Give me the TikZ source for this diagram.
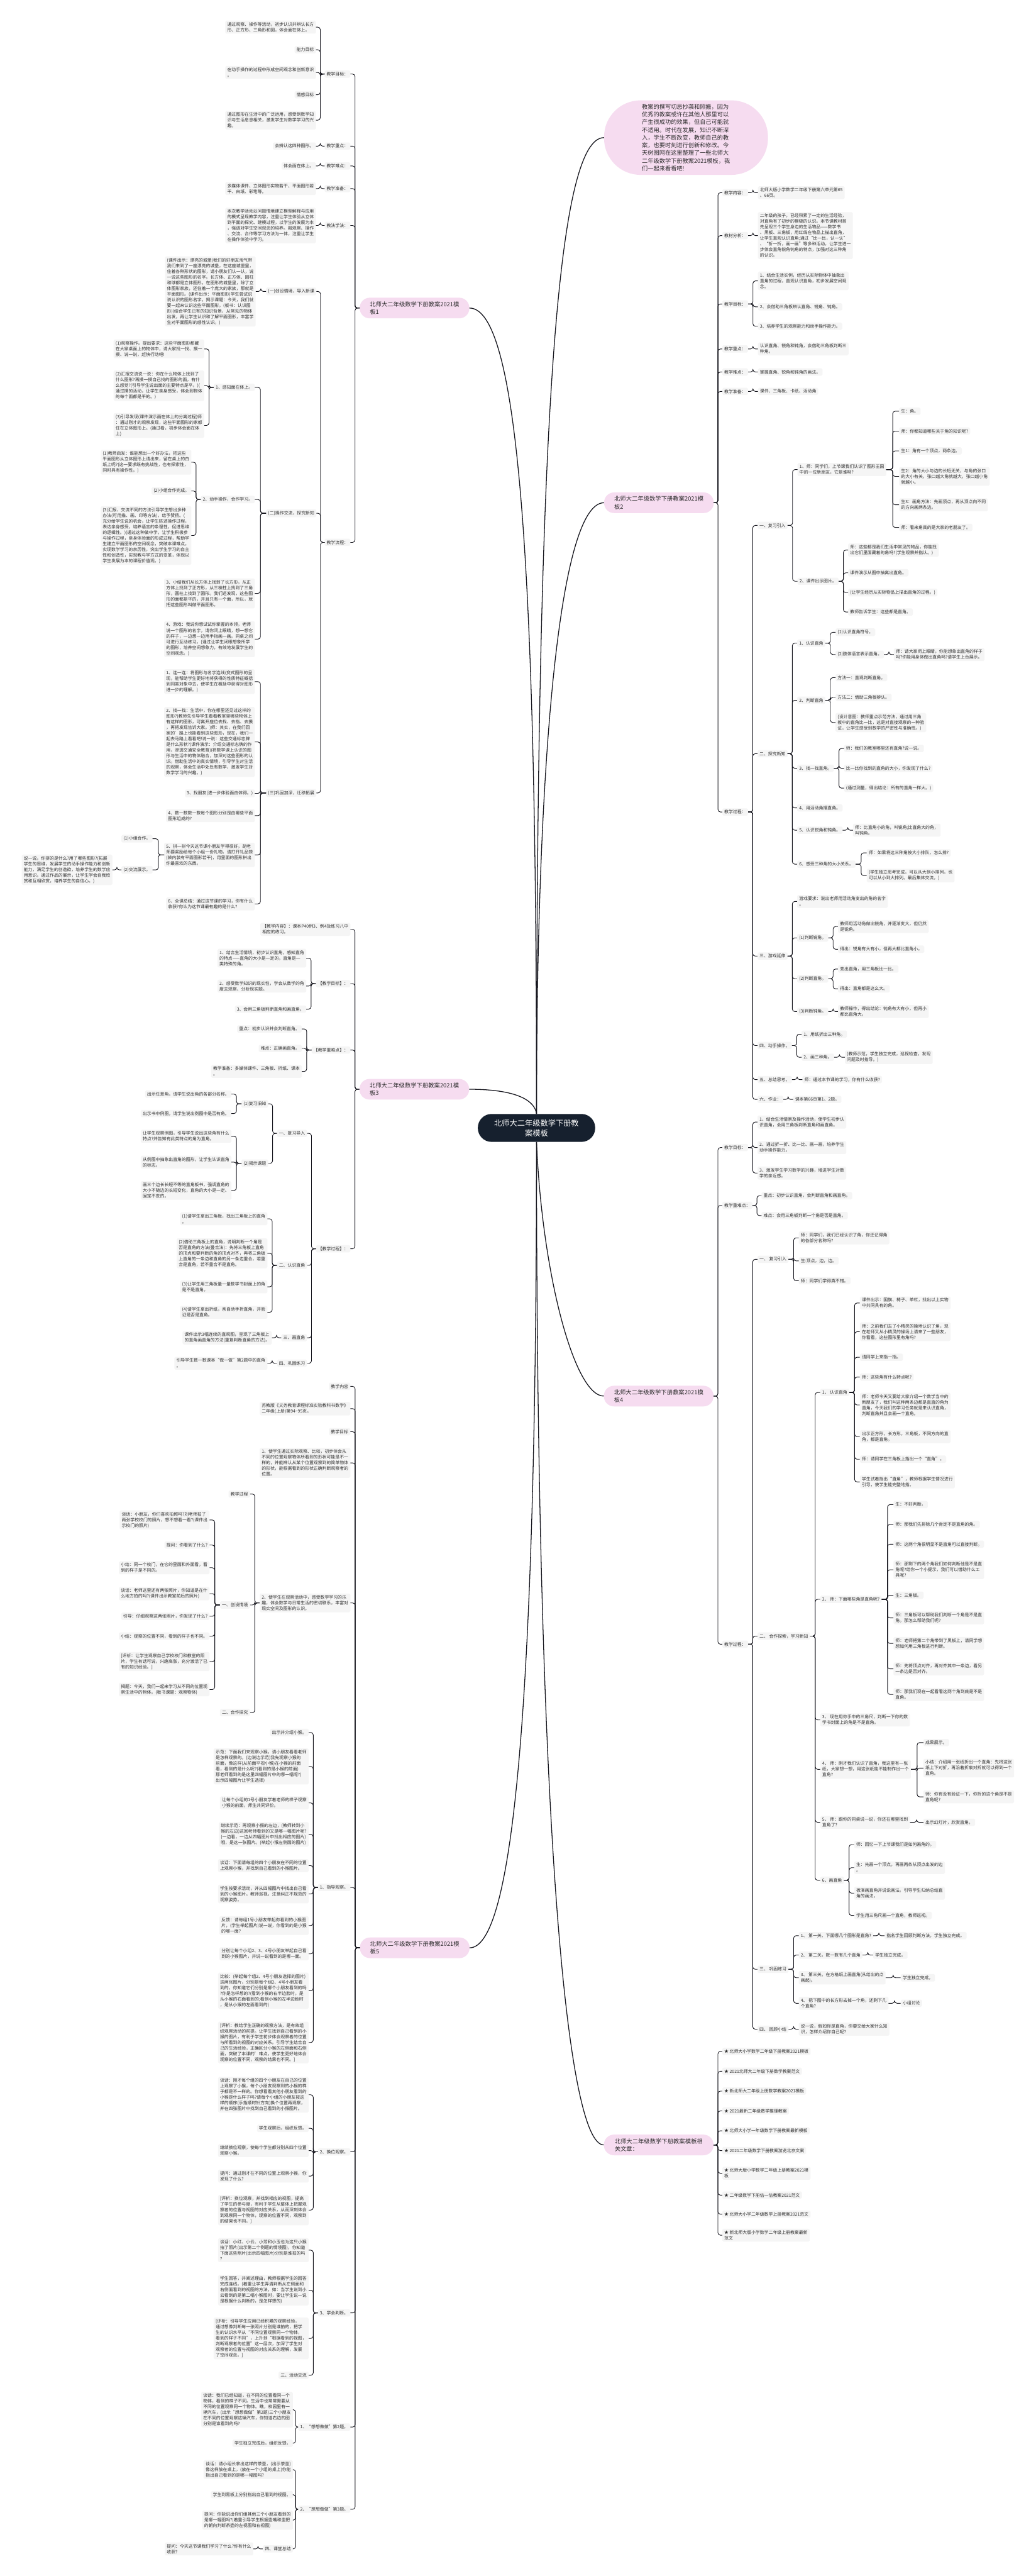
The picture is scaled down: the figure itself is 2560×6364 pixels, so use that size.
\documentclass[tikz,border=0pt]{standalone}
\usepackage{fontspec}
\setmainfont{Noto Sans CJK SC}
\usetikzlibrary{calc}
\definecolor{pinkf}{RGB}{246,220,240}
\definecolor{boxf}{RGB}{245,245,245}
\definecolor{navy}{RGB}{22,32,46}
\definecolor{txt}{RGB}{45,45,45}
\definecolor{lnc}{RGB}{20,20,28}
\tikzset{
  bx/.style={fill=boxf, rounded corners=3pt, inner xsep=5pt, inner ysep=4pt, align=left, text=txt, font=\fontsize{10.7}{14}\selectfont},
  pk/.style={fill=pinkf, rounded corners=25pt, inner xsep=22pt, inner ysep=8pt, minimum width=271pt, minimum height=51pt, align=left, text=txt, font=\fontsize{14.5}{19}\selectfont},
  conn/.style={draw=lnc, line width=1.4pt, rounded corners=6pt},
  mainl/.style={draw=lnc, line width=2pt}
}
\newcommand\lbx[4]{\node[bx,anchor=east] (#1) at (#2,#3) {#4};}
\newcommand\rbx[4]{\node[bx,anchor=west] (#1) at (#2,#3) {#4};}
\newcommand\chL[2]{\foreach \cc in {#2}{\draw[conn] (#1.west) -- ($(#1.west)!0.5!(#1.west-|\cc.east)$) |- (\cc.east);}}
\newcommand\chR[2]{\foreach \cc in {#2}{\draw[conn] (#1.east) -- ($(#1.east)!0.5!(#1.east-|\cc.west)$) |- (\cc.west);}}
\begin{document}
\begin{tikzpicture}[x=1pt,y=-1pt]
\useasboundingbox (0,0) rectangle (2560,6364);
\fill[white] (0,0) rectangle (2560,6364);

% ===== center and main branches =====
\node[fill=navy, text=white, rounded corners=34pt, minimum width=290pt, minimum height=69pt, align=center, font=\fontsize{19}{25}\selectfont] (c0) at (1326,2786.5) {北师大二年级数学下册教\\案模板};
\node[fill=pinkf, rounded corners=90pt, minimum width=405pt, minimum height=184pt, align=left, text=txt, font=\fontsize{14.3}{19}\selectfont] (d0) at (1695.5,340) {教案的撰写切忌抄袭和照搬，因为\\优秀的教案或许在其他人那里可以\\产生很成功的效果，但自己可能就\\不适用。时代在发展，知识不断深\\入，学生不断改变，教师自己的教\\案，也要时刻进行创新和修改。今\\天树图网在这里整理了一些北师大\\二年级数学下册教案2021模板，我\\们一起来看看吧!};
\node[pk] (t1) at (1024.5,761) {北师大二年级数学下册教案2021模\\板1};
\node[pk] (t2) at (1628.5,1242) {北师大二年级数学下册教案2021模\\板2};
\node[pk] (t3) at (1024,2691) {北师大二年级数学下册教案2021模\\板3};
\node[pk] (t4) at (1628,3449) {北师大二年级数学下册教案2021模\\板4};
\node[pk] (t5) at (1025,4812) {北师大二年级数学下册教案2021模\\板5};
\node[pk] (t6) at (1628,5299) {北师大二年级数学下册教案模板相\\关文章：};

\draw[mainl] (c0.north) .. controls (1326,1000) and (1380,340) .. (d0.west);
\draw[mainl] (c0.north) .. controls (1326,1900) and (1380,1242) .. (t2.west);
\draw[mainl] (c0.north) .. controls (1326,1500) and (1290,761) .. (t1.east);
\draw[mainl] (c0.north) .. controls (1322,2720) and (1280,2691) .. (t3.east);
\draw[mainl] (c0.south) .. controls (1340,3150) and (1420,3449) .. (t4.west);
\draw[mainl] (c0.south) .. controls (1326,4300) and (1260,4812) .. (t5.east);
\draw[mainl] (c0.south) .. controls (1326,4500) and (1400,5299) .. (t6.west);

% ===== branch 2 (right) =====
\rbx{b1}{1785}{476}{教学内容：}
\rbx{b1a}{1873}{476}{北师大版小学数学二年级下册第六单元第65\\、66页。}
\rbx{b2}{1785}{582}{教材分析：}
\rbx{b2a}{1873}{582}{二年级的孩子，已经积累了一定的生活经验，\\对直角有了初步的模糊的认识。本节课教材首\\先呈现三个学生身边的生活物品——数学书\\、黑板、三角板，用红线在物品上描出直角，\\让学生直观认识直角;通过“比一比，认一认”\\、“折一折，画一画”等多种活动，让学生进一\\步体会直角锐角钝角的特点，加强对这三种角\\的认识。}
\rbx{b3}{1785}{751}{教学目标：}
\rbx{b3a}{1873}{694}{1、结合生活实例，经历从实际物体中抽象出\\直角的过程，直观认识直角，初步发展空间观\\念。}
\rbx{b3b}{1873}{758}{2、会借助三角板辨认直角、锐角、钝角。}
\rbx{b3c}{1873}{806}{3、培养学生的观察能力和动手操作能力。}
\rbx{b4}{1785}{862}{教学重点：}
\rbx{b4a}{1873}{862}{认识直角、锐角和钝角，会借助三角板判断三\\种角。}
\rbx{b5}{1785}{919}{教学难点：}
\rbx{b5a}{1873}{919}{掌握直角、锐角和钝角的画法。}
\rbx{b6}{1785}{967}{教学准备：}
\rbx{b6a}{1873}{967}{课件、三角板、卡纸、活动角}
\rbx{b7}{1785}{2006}{教学过程：}
\rbx{p1}{1872}{1298}{一、复习引入}
\rbx{p11}{1971}{1160}{1、师：同学们，上节课我们认识了图形王国\\中的一位新朋友，它是谁呀?}
\rbx{p111}{2222}{1016}{生：角。}
\rbx{p112}{2222}{1065}{师：你都知道哪些关于角的知识呢?}
\rbx{p113}{2222}{1114}{生1：角有一个顶点，两条边。}
\rbx{p114}{2222}{1177}{生2：角的大小与边的长短无关，与角的张口\\的大小有关，张口越大角就越大，张口越小角\\就越小。}
\rbx{p115}{2222}{1247}{生3：画角方法：先画顶点，再从顶点向不同\\的方向画两条边。}
\rbx{p116}{2222}{1303}{师：看来角真的是大家的老朋友了。}
\rbx{p12}{1971}{1436}{2、课件出示图片。}
\rbx{p121}{2096}{1359}{师：这些都是我们生活中常见的物品，你能找\\出它们里面藏着的角吗?(学生观察并指认。)}
\rbx{p122}{2096}{1415}{课件演示从图中抽离出直角。}
\rbx{p123}{2096}{1464}{(让学生经历从实际物品上描出直角的过程。)}
\rbx{p124}{2096}{1512}{教师告诉学生：这些都是直角。}
\rbx{p2}{1872}{1862}{二、探究新知}
\rbx{p21}{1970}{1589}{1、认识直角}
\rbx{p211}{2065}{1562}{(1)认识直角符号。}
\rbx{p212}{2065}{1617}{(2)肢体语言表示直角。}
\rbx{p2121}{2209}{1617}{师：请大家闭上眼睛，你能想象出直角的样子\\吗?你能用身体做出直角吗?请学生上台展示。}
\rbx{p22}{1970}{1730}{2、判断直角}
\rbx{p221}{2065}{1674}{方法一：直观判断直角。}
\rbx{p222}{2065}{1723}{方法二：借助三角板辨认。}
\rbx{p223}{2065}{1785}{(设计意图：教师重点示范方法，通过用三角\\板中的直角比一比，这是对直接观察的一种验\\证，让学生感受到数学的严密性与准确性。)}
\rbx{p23}{1970}{1898}{3、找一找直角。}
\rbx{p231}{2086}{1849}{师：我们的教室哪里还有直角?说一说。}
\rbx{p232}{2086}{1898}{比一比你找到的直角的大小，你发现了什么?}
\rbx{p233}{2086}{1947}{(通过测量，得出结论：所有的直角一样大。)}
\rbx{p24}{1970}{1996}{4、用活动角摆直角。}
\rbx{p25}{1970}{2051}{5、认识锐角和钝角。}
\rbx{p251}{2108}{2051}{师：比直角小的角，叫锐角;比直角大的角，\\叫钝角。}
\rbx{p26}{1970}{2135}{6、感受三种角的大小关系。}
\rbx{p261}{2142}{2107}{师：如果将这三种角按大小排队，怎么排?}
\rbx{p262}{2142}{2163}{(学生独立思考完成，可以从大到小排列，也\\可以从小到大排列。最后集体交流。)}
\rbx{p3}{1872}{2362}{三、游戏延伸}
\rbx{p31}{1970}{2227}{游戏要求：说出老师用活动角变出的角的名字\\。}
\rbx{p32}{1970}{2317}{(1)判断锐角。}
\rbx{p321}{2071}{2289}{教师用活动角做出锐角，并逐渐变大，但仍然\\是锐角。}
\rbx{p322}{2071}{2345}{得出：锐角有大有小，但再大都比直角小。}
\rbx{p33}{1970}{2418}{(2)判断直角。}
\rbx{p331}{2071}{2394}{变出直角，用三角板比一比。}
\rbx{p332}{2071}{2443}{得出：直角都是这么大。}
\rbx{p34}{1970}{2499}{(3)判断钝角。}
\rbx{p341}{2071}{2499}{教师操作，得出结论：钝角有大有小，但再小\\都比直角大。}
\rbx{p4}{1872}{2583}{四、动手操作。}
\rbx{p41}{1981}{2555}{1、用纸折出三种角。}
\rbx{p42}{1981}{2612}{2、画三种角。}
\rbx{p421}{2088}{2612}{(教师示范，学生独立完成，巡视检查，发现\\问题及时指导。)}
\rbx{p5}{1872}{2667}{五、总结思考。}
\rbx{p51}{1983}{2667}{师：通过本节课的学习，你有什么收获?}
\rbx{p6}{1872}{2716}{六、作业：}
\rbx{p61}{1960}{2716}{课本第66页第1、2题。}

\chR{t2}{b1,b2,b3,b4,b5,b6,b7}
\chR{b1}{b1a}\chR{b2}{b2a}\chR{b3}{b3a,b3b,b3c}\chR{b4}{b4a}\chR{b5}{b5a}\chR{b6}{b6a}
\chR{b7}{p1,p2,p3,p4,p5,p6}
\chR{p1}{p11,p12}
\chR{p11}{p111,p112,p113,p114,p115,p116}
\chR{p12}{p121,p122,p123,p124}
\chR{p2}{p21,p22,p23,p24,p25,p26}
\chR{p21}{p211,p212}\chR{p212}{p2121}
\chR{p22}{p221,p222,p223}
\chR{p23}{p231,p232,p233}
\chR{p25}{p251}
\chR{p26}{p261,p262}
\chR{p3}{p31,p32,p33,p34}
\chR{p32}{p321,p322}\chR{p33}{p331,p332}\chR{p34}{p341}
\chR{p4}{p41,p42}\chR{p42}{p421}
\chR{p5}{p51}\chR{p6}{p61}

% ===== branch 4 (right) =====
\rbx{e1}{1785}{2835}{教学目标：}
\rbx{e1a}{1872}{2772}{1、结合生活情景及操作活动，使学生初步认\\识直角，会用三角板判断直角和画直角。}
\rbx{e1b}{1872}{2835}{2、通过折一折、比一比、画一画，培养学生\\动手操作能力。}
\rbx{e1c}{1872}{2898}{3、激发学生学习数学的兴趣，增进学生对数\\学的亲近感。}
\rbx{e2}{1785}{2978}{教学重难点：}
\rbx{e2a}{1882}{2954}{重点：初步认识直角，会判断直角和画直角。}
\rbx{e2b}{1882}{3003}{难点：会用三角板判断一个角是否是直角。}
\rbx{e3}{1785}{4062}{教学过程：}
\rbx{q1}{1872}{3111}{一、 复习引入}
\rbx{q11}{1974}{3058}{师：同学们，我们已经认识了角，你还记得角\\的各部分名称吗?}
\rbx{q12}{1974}{3115}{生:顶点，边，边。}
\rbx{q13}{1974}{3164}{师：同学们学得真不错。}
\rbx{q2}{1872}{4042}{二、 合作探索，学习新知}
\rbx{q21}{2027}{3440}{1、 认识直角}
\rbx{q211}{2125}{3219}{课件出示：国旗、椅子、单杠，找出以上实物\\中共同具有的角。}
\rbx{q212}{2125}{3290}{师：之前我们去了小精灵的操场认识了角，现\\在老师又从小精灵的操场上请来了一些朋友，\\你看看，这些图形里有角吗?}
\rbx{q213}{2125}{3353}{请同学上来指一指。}
\rbx{q214}{2125}{3402}{师：这些角有什么特点呢?}
\rbx{q215}{2125}{3471}{师：老师今天又要给大家介绍一个数学当中的\\新朋友了，我们叫这种两条边都是直直的角为\\直角，今天我们的学习任务就是来认识直角，\\判断直角并且会画一个直角。}
\rbx{q216}{2125}{3549}{出示正方形，长方形，三角板，不同方向的直\\角，都是直角。}
\rbx{q217}{2125}{3605}{师：请同学在三角板上指出一个“直角”。}
\rbx{q218}{2125}{3661}{学生试着指出“直角”，教师根据学生情况进行\\引导，使学生能完整地指。}
\rbx{q22}{2027}{3951}{2、 师：下面哪些角是直角呢?}
\rbx{q221}{2208}{3717}{生：不好判断。}
\rbx{q222}{2208}{3766}{师：那我们先排除几个肯定不是直角的角。}
\rbx{q223}{2208}{3815}{师：这两个角很明显不是直角可以直接判断。}
\rbx{q224}{2208}{3878}{师：那剩下的两个角我们如何判断他是不是直\\角呢?给你一个小提示，我们可以借助什么工\\具呢?}
\rbx{q225}{2208}{3941}{生：三角板。}
\rbx{q226}{2208}{3997}{师：三角板可以帮助我们判断一个角是不是直\\角。那怎么帮助我们呢?}
\rbx{q227}{2208}{4060}{师：老师把第二个角带到了黑板上，请同学想\\想如何用三角板进行判断。}
\rbx{q228}{2208}{4123}{师：先将顶点对齐，再对齐其中一条边，看另\\一条边是否对齐。}
\rbx{q229}{2208}{4186}{师：那我们现在一起看看这两个角到底是不是\\直角。}
\rbx{q23}{2027}{4249}{3、 现在用你手中的三角尺，判断一下你的数\\学书封面上的角是不是直角。}
\rbx{q24}{2027}{4371}{4、 师：刚才我们认识了直角，我这里有一张\\纸，大家想一想，用这张纸能不能制作出一个\\直角?}
\rbx{q241}{2282}{4305}{成果展示。}
\rbx{q242}{2282}{4368}{小结：介绍用一张纸折出一个直角：先将这张\\纸上下对折，再沿着折痕对折就可以得到一个\\直角。}
\rbx{q243}{2282}{4439}{师：你有没有验证一下，你折的这个角是不是\\直角呢?}
\rbx{q25}{2027}{4502}{5、 师：跟你的同桌说一说，你还在哪里找到\\直角了?}
\rbx{q251}{2282}{4502}{出示幻灯片，欣赏直角。}
\rbx{q26}{2027}{4645}{6、画直角}
\rbx{q261}{2111}{4557}{师：回忆一下上节课我们是如何画角的。}
\rbx{q262}{2111}{4614}{生：先画一个顶点，再画两条从顶点出发的边\\。}
\rbx{q263}{2111}{4677}{板演画直角并说说画法。引导学生归纳总结直\\角的画法。}
\rbx{q264}{2111}{4732}{学生用三角尺画一个直角，教师巡视。}
\rbx{q3}{1872}{4865}{三、 巩固练习}
\rbx{q31}{1974}{4782}{1、 第一关、下面哪几个图形是直角?}
\rbx{q311}{2186}{4782}{指名学生回顾判断方法，学生独立完成。}
\rbx{q32}{1974}{4830}{2、 第二关。数一数有几个直角}
\rbx{q321}{2158}{4830}{学生独立完成。}
\rbx{q33}{1974}{4886}{3、 第三关。在方格纸上画直角(从给出的点\\画起)。}
\rbx{q331}{2226}{4886}{学生独立完成。}
\rbx{q34}{1974}{4949}{4、 把下图中的长方形去掉一个角，还剩下几\\个直角?}
\rbx{q341}{2226}{4949}{小组讨论}
\rbx{q4}{1872}{5013}{四、 回顾小结}
\rbx{q41}{1974}{5013}{说一说，假如你是直角，你要交给大家什么知\\识，怎样介绍你自己呢?}

\chR{t4}{e1,e2,e3}
\chR{e1}{e1a,e1b,e1c}\chR{e2}{e2a,e2b}
\chR{e3}{q1,q2,q3,q4}
\chR{q1}{q11,q12,q13}
\chR{q2}{q21,q22,q23,q24,q25,q26}
\chR{q21}{q211,q212,q213,q214,q215,q216,q217,q218}
\chR{q22}{q221,q222,q223,q224,q225,q226,q227,q228,q229}
\chR{q24}{q241,q242,q243}\chR{q25}{q251}
\chR{q26}{q261,q262,q263,q264}
\chR{q3}{q31,q32,q33,q34}
\chR{q31}{q311}\chR{q32}{q321}\chR{q33}{q331}\chR{q34}{q341}
\chR{q4}{q41}

% ===== branch 6 (right) =====
\rbx{r1}{1785}{5068}{★ 北师大小学数学二年级下册教案2021模板}
\rbx{r2}{1785}{5117}{★ 2021北师大二年级下册数学教案范文}
\rbx{r3}{1785}{5166}{★ 新北师大二年级上册数学教案2021模板}
\rbx{r4}{1785}{5215}{★ 2021最新二年级数学推理教案}
\rbx{r5}{1785}{5264}{★ 北师大小学一年级数学下册教案最新模板}
\rbx{r6}{1785}{5313}{★ 2021二年级数学下册教案游览北京文案}
\rbx{r7}{1785}{5369}{★ 北师大版小学数学二年级上册教案2021模\\板}
\rbx{r8}{1785}{5423}{★ 二年级数学下册估一估教案2021范文}
\rbx{r9}{1785}{5470}{★ 北师大小学二年级数学上册教案2021范文}
\rbx{r10}{1785}{5522}{★ 新北师大版小学数学二年级上册教案最新\\范文}
\chR{t6}{r1,r2,r3,r4,r5,r6,r7,r8,r9,r10}

% ===== branch 1 (left) =====
\lbx{a1}{866}{183}{教学目标：}
\lbx{a11}{781}{67}{通过观察、操作等活动，初步认识并辨认长方\\形、正方形、三角形和圆，体会面在体上。}
\lbx{a12}{781}{123}{能力目标}
\lbx{a13}{781}{179}{在动手操作的过程中形成空间观念和创新意识\\。}
\lbx{a14}{781}{234}{情感目标}
\lbx{a15}{781}{297}{通过图形在生活中的广泛运用，感受到数学知\\识与生活息息相关，激发学生对数学学习的兴\\趣。}
\lbx{a2}{866}{361}{教学重点：}
\lbx{a21}{781}{361}{会辨认这四种图形。}
\lbx{a3}{866}{410}{教学难点：}
\lbx{a31}{781}{410}{体会面在体上。}
\lbx{a4}{866}{466}{教学准备：}
\lbx{a41}{781}{466}{多媒体课件、立体图形实物若干、平面图形若\\干、白纸、彩笔等。}
\lbx{a5}{866}{557}{教法学法：}
\lbx{a51}{781}{557}{本次教学活动以问题情境建立模型解释与应用\\的模式呈现教学内容，注重让学生体验从立体\\到平面的探究、建模过程，以学生的发展为本\\，强调对学生空间观念的培养。融观察、操作\\、交流、合作等学习方法为一体，注重让学生\\在操作体验中学习。}
\lbx{a6}{866}{1340}{教学流程：}
\lbx{s1}{782}{720}{(一)创设情境，导入新课}
\lbx{s11}{632}{720}{(课件出示：漂亮的城堡)我们的好朋友淘气带\\我们来到了一座漂亮的城堡，在这座城堡里，\\住着各种形状的图形，请小朋友们认一认，说\\一说这些图形的名字。长方体、正方体、圆柱\\和球都是立体图形。在图形的城堡里，除了立\\体图形家族，还住着一个庞大的家族，那就是\\平面图形。(课件出示：平面图形)学生尝试说\\说认识的图形名字。揭示课题：今天，我们就\\要一起来认识这些平面图形。(板书：认识图\\形)(结合学生已有的知识背景，从常见的物体\\出发，再让学生认识和了解平面图形，丰富学\\生对平面图形的感性认识。)}
\lbx{s2}{782}{1268}{(二)操作交流，探究新知}
\lbx{s21}{630}{957}{1、感知面在体上。}
\lbx{s211}{505}{862}{(1)观察操作。提出要求：这些平面图形都藏\\在大家桌面上的物体中，请大家找一找、摸一\\摸、说一说，赶快行动吧!}
\lbx{s212}{505}{953}{(2)汇报交流说一说：你在什么物体上找到了\\什么图形?再摸一摸自己找的图形的面，有什\\么感觉?(引导学生说出面的主要特点是平。)(\\通过摸的活动，让学生亲身感受，体会到物体\\的每个面都是平的。)}
\lbx{s213}{505}{1051}{(3)引导发现(课件演示面在体上的分离过程)师\\：通过刚才的观察发现，这些平面图形的家都\\住在立体图形上。(通过看，初步体会面在体\\上)}
\lbx{s22}{630}{1234}{2、动手操作，合作学习。}
\lbx{s221}{473}{1142}{(1)教师启发：谁能想出一个好办法，把这些\\平面图形从立体图形上请出来，留在桌上的白\\纸上呢?(这一要求既有挑战性，也有探索性，\\同时具有操作性。)}
\lbx{s222}{473}{1213}{(2)小组合作完成。}
\lbx{s223}{473}{1323}{(3)汇报、交流不同的方法引导学生想出多种\\办法(可用描、画、印等方法)，给予赞扬。(\\充分给学生说的机会，让学生陈述操作过程，\\表达亲身感受，培养语言的条理性，促进思维\\的逻辑性。)(通过这种做中学，让学生积极参\\与操作过程，亲身体验面的形成过程，帮助学\\生建立平面图形的空间观念，突破本课难点。\\实现数学学习的亲历性，突出学生学习的自主\\性和创造性，实现教与学方式的变革，体现以\\学生发展为本的课程价值观。)}
\lbx{s23}{630}{1466}{3、小结我们从长方体上找到了长方形，从正\\方体上找到了正方形，从三棱柱上找到了三角\\形，圆柱上找到了圆形。我们还发现，这些图\\形的面都是平的，并且只有一个面，所以，就\\把这些图形叫做平面图形。}
\lbx{s24}{630}{1579}{4、游戏：我说你想试试你掌握的本领，老师\\说一个图形的名字，请你闭上眼睛，想一想它\\的样子，一边想一边用手指画一画。同桌之间\\可进行互动练习。(通过让学生闭眼想象所学\\的图形，培养空间想象力，有效地发展学生的\\空间观念。)}
\lbx{s3}{782}{1959}{(三)巩固加深，迁移拓展}
\lbx{s31}{630}{1684}{1、连一连：将图形与名字连线(变式图形的呈\\现，能帮助学生更好地将获得的性质特征概括\\到同类对象中去，使学生在概括中获得对图形\\进一步的理解。)}
\lbx{s32}{630}{1833}{2、找一找：生活中，你在哪里还见过这样的\\图形?(教师先引导学生看看教室里哪些物体上\\有这样的图形，可离开座位去找、去指、去摸\\，再把发现告诉大家。)师：其实，在我们回\\家的'路上也能看到这些图形，现在，我们一\\起去马路上看看吧!说一说：这些交通标志牌\\是什么形状?(课件演示：介绍交通标志牌的作\\用，渗透交通安全教育)(将数学课上认识的图\\形与生活中的物体融合，加深对这些图形的认\\识。借助生活中的真实情境，引导学生对生活\\的观察，体会生活中处处有数学，激发学生对\\数学学习的兴趣。)}
\lbx{s33}{630}{1960}{3、找朋友(进一步体验面由体得。)}
\lbx{s34}{630}{2015}{4、数一数数一数每个图形分别是由哪些平面\\图形组成的?}
\lbx{s35}{630}{2112}{5、拼一拼今天这节课小朋友学得很好，胡老\\师要奖励给每个小组一份礼物。请打开礼品袋\\(袋内装有平面图形若干)，用里面的图形拼出\\你最喜欢的东西。}
\lbx{s351}{377}{2072}{(1)小组合作。}
\lbx{s352}{377}{2149}{(2)交流展示。}
\lbx{s3521}{278}{2149}{说一说。你拼的是什么?用了哪些图形?(拓展\\学生的思维，发展学生的动手操作能力和创新\\能力，满足学生的创造欲，培养学生的数学应\\用意识。通过作品的展示，让学生学会自我欣\\赏和互相欣赏，培养学生的自信心。)}
\lbx{s36}{630}{2233}{6、全课总结：通过这节课的学习，你有什么\\收获?你认为这节课最有趣的是什么?}

\chL{t1}{a1,a2,a3,a4,a5,a6}
\chL{a1}{a11,a12,a13,a14,a15}
\chL{a2}{a21}\chL{a3}{a31}\chL{a4}{a41}\chL{a5}{a51}
\chL{a6}{s1,s2,s3}
\chL{s1}{s11}
\chL{s2}{s21,s22,s23,s24}
\chL{s21}{s211,s212,s213}
\chL{s22}{s221,s222,s223}
\chL{s3}{s31,s32,s33,s34,s35,s36}
\chL{s35}{s351,s352}\chL{s352}{s3521}

% ===== branch 3 (left) =====
\lbx{g1}{866}{2296}{【教学内容】：课本P40例3、例4及练习八中\\相应的练习。}
\lbx{g2}{866}{2430}{【教学目标】：}
\lbx{g21}{757}{2367}{1、结合生活情境，初步认识直角，感知直角\\的特点——直角的大小是一定的，直角是一\\类特殊的角。}
\lbx{g22}{757}{2436}{2、感受数学知识的现实性，学会从数学的角\\度去观察、分析现实题。}
\lbx{g23}{757}{2493}{3、会用三角板判断直角和画直角。}
\lbx{g3}{866}{2594}{【教学重难点】：}
\lbx{g31}{746}{2542}{重点：初步认识并会判断直角。}
\lbx{g32}{746}{2590}{难点：正确画直角。}
\lbx{g33}{746}{2647}{教学准备：多媒体课件、三角板、折纸、课本\\。}
\lbx{g4}{866}{3085}{【教学过程】：}
\lbx{h1}{759}{2800}{一、复习导入}
\lbx{h11}{663}{2727}{(1)复习旧知}
\lbx{h111}{572}{2703}{出示任意角，请学生说出角的各部分名称。}
\lbx{h112}{572}{2751}{出示书中例图，请学生说出例图中是否有角。}
\lbx{h12}{663}{2874}{(2)揭示课题}
\lbx{h121}{572}{2807}{让学生观察例图，引导学生说出这些角有什么\\特点?并告知有此类特点的角为直角。}
\lbx{h122}{572}{2871}{从例图中抽象出直角的图形，让学生认识直角\\的标志。}
\lbx{h123}{572}{2941}{画三个边长长短不等的直角板书，强调直角的\\大小不随边的长短变化，直角的大小是一定、\\固定不变的。}
\lbx{h2}{759}{3126}{二、认识直角}
\lbx{h21}{661}{3011}{(1)请学生拿出三角板，找出三角板上的直角\\。}
\lbx{h22}{661}{3096}{(2)借助三角板上的直角，说明判断一个角是\\否是直角的方法(叠合法)：先将三角板上直角\\的顶点和要判断的角的顶点对齐，再将三角板\\上直角的一条边和直角的另一条边重合，若重\\合是直角，若不重合不是直角。}
\lbx{h23}{661}{3179}{(3)让学生用三角板量一量数学书封面上的角\\是不是直角。}
\lbx{h24}{661}{3242}{(4)请学生拿出折纸，亲自动手折直角，并验\\证是否是直角。}
\lbx{h3}{759}{3305}{三、画直角}
\lbx{h31}{672}{3305}{课件出示3幅连续的直观图，呈现了三角板上\\的直角画直角的方法(重复判断直角的方法)。}
\lbx{h4}{759}{3368}{四、巩固练习}
\lbx{h41}{661}{3368}{引导学生数一数课本“做一做”第2题中的直角\\。}

\chL{t3}{g1,g2,g3,g4}
\chL{g2}{g21,g22,g23}
\chL{g3}{g31,g32,g33}
\chL{g4}{h1,h2,h3,h4}
\chL{h1}{h11,h12}
\chL{h11}{h111,h112}
\chL{h12}{h121,h122,h123}
\chL{h2}{h21,h22,h23,h24}
\chL{h3}{h31}\chL{h4}{h41}

% ===== branch 5 (left) =====
\lbx{k1}{866}{3425}{教学内容}
\lbx{k2}{866}{3480}{苏教版《义务教育课程标准实验教科书数学》\\二年级(上册)第94\textasciitilde95页。}
\lbx{k3}{866}{3537}{教学目标}
\lbx{k4}{866}{3614}{1、使学生通过实际观察、比较，初步体会从\\不同的位置观察物体所看到的形状可能是不一\\样的，并能辨认从某个位置观察到的简单物体\\的形状，能根据看到的形状正确判断观察者的\\位置。}
\lbx{k5}{866}{3960}{2、使学生在观察活动中，感受数学学习的乐\\趣，体会数学与日常生活的密切联系，丰富对\\现实空间及图形的认识。}
\lbx{k51}{618}{3691}{教学过程}
\lbx{k52}{618}{3965}{一、创设情境}
\lbx{k521}{518}{3755}{谈话：小朋友，你们喜欢拍照吗?刘老师拍了\\两张学校校门的照片，想不想看一看?(课件出\\示校门的照片)}
\lbx{k522}{518}{3817}{提问：你看到了什么?}
\lbx{k523}{518}{3873}{小结：同一个校门，在它的里面和外面看，看\\到的样子是不同的。}
\lbx{k524}{518}{3937}{谈话：老师这里还有两张照片，你知道是在什\\么地方拍的吗?(课件出示教室前后的照片)}
\lbx{k525}{518}{3993}{引导：仔细观察这两张照片，你发现了什么?}
\lbx{k526}{518}{4042}{小结：观察的位置不同，看到的样子也不同。}
\lbx{k527}{518}{4105}{[评析：让学生观察自己学校校门和教室的照\\片，学生有话可说，兴趣高涨，充分激活了已\\有的知识经验。]}
\lbx{k528}{518}{4174}{揭题：今天，我们一起来学习从不同的位置观\\察生活中的物体。(板书课题：观察物体)}
\lbx{k53}{618}{4231}{二、合作探究}
\lbx{k6}{866}{4663}{1、指导观察。}
\lbx{k61}{763}{4280}{出示并介绍小猴。}
\lbx{k62}{763}{4364}{示范：下面我们来观察小猴，请小朋友看看老师\\是怎样观察的。(边说边示范)我先观察小猴的\\前面，像这样(从前面平视小猴)在小猴的前面\\看，看到的是什么呢?(看到的是小猴的前面)\\那老师看到的是这里四幅图片中的哪一幅呢?(\\出示四幅图片让学生选择)}
\lbx{k63}{763}{4454}{让每个小组的1号小朋友学着老师的样子观察\\小猴的前面，师生共同评价。}
\lbx{k64}{763}{4532}{继续示范：再观察小猴的左边，(教师转到小\\猴的左边)这回老师看到的又是哪一幅图片呢?\\(一边看，一边从四幅图片中找出相应的图片)\\哦，是这一张图片。(举起小猴左侧面的图片)}
\lbx{k65}{763}{4609}{谈话：下面请每组的四个小朋友在不同的位置\\上观察小猴，并找到自己看到的小猴图片。}
\lbx{k66}{763}{4679}{学生按要求活动，并从四幅图片中找出自己看\\到的小猴图片。教师巡视，注意纠正不规范的\\观察姿势。}
\lbx{k67}{763}{4757}{反馈：请每组1号小朋友举起你看到的小猴图\\片，(学生举起图片)说一说，你看到的是小猴\\的哪一面?}
\lbx{k68}{763}{4827}{分别让每个小组2、3、4号小朋友举起自己看\\到的小猴图片，并说一说看到的是哪一面。}
\lbx{k69}{763}{4918}{比较：(举起每个组2、4号小朋友选择的图片)\\这两张图片，分别是每个组2、4号小朋友看\\到的，你知道它们分别是哪个小朋友看到的吗\\?你是怎样想的?(看到小猴的右半边脸时，是\\从小猴的右面看到的;看到小猴的左半边脸时\\，是从小猴的左面看到的)}
\lbx{k610}{763}{5046}{[评析：教给学生正确的观察方法，是有效组\\织观察活动的前提。让学生找到自己看到的小\\猴的图片，有利于学生初步体会观察者的位置\\与所看到的视图的对应关系。引导学生结合自\\己的生活经验，正确区分小猴的左侧面和右侧\\面，突破了本课的'难点，使学生更好地体会\\观察的位置不同，观察的结果也不同。]}
\lbx{k7}{866}{5316}{2、换位观察。}
\lbx{k71}{763}{5175}{谈话：刚才每个组的四个小朋友在自己的位置\\上观察了小猴，每个小朋友观察到的小猴的样\\子都是不一样的。你想看看其他小朋友看到的\\小猴是什么样子吗?请每个小组的小朋友按这\\样的顺序(手指顺时针方向)换个位置再观察，\\并在四张图片中找到自己看到的小猴图片。}
\lbx{k72}{763}{5258}{学生观察后，组织反馈。}
\lbx{k73}{763}{5313}{继续换位观察，使每个学生都分别从四个位置\\观察小猴。}
\lbx{k74}{763}{5376}{提问：通过刚才在不同的位置上观察小猴，你\\发现了什么?}
\lbx{k75}{763}{5460}{[评析：换位观察，并找到相应的视图，提高\\了学生的参与度，有利于学生从整体上把握观\\察者的位置与视图的对应关系，从而深刻体会\\到观察同一个物体，观察的位置不同，观察到\\的结果也不同。]}
\lbx{k8}{866}{5714}{3、学会判断。}
\lbx{k81}{763}{5559}{谈话：小红、小云、小芳和小玉也为这只小猴\\拍了照片(出示第二个例题的情境图)，你知道\\下面这些照片(出示四幅图片)分别是谁拍的吗\\?}
\lbx{k82}{763}{5658}{学生回答，并阐述理由，教师根据学生的回答\\完成连线。(着重让学生弄清判断从左侧面和\\右侧面看到的视图的方法。如：当学生说到小\\云看到的是第二幅小猴图时，要让学生说一说\\是根据什么判断的，是怎样想的)}
\lbx{k83}{763}{5777}{[评析：引导学生应用已经积累的观察经验，\\通过想像判断每一张照片分别是谁拍的，把学\\生的认识水平从“不同位置观察同一个物体，\\看到的样子不同”，上升到“根据看到的视图，\\判断观察者的位置”这一层次，加深了学生对\\观察者的位置与视图的对应关系的理解，发展\\了空间观念。]}
\lbx{k84}{763}{5868}{三、活动交流}
\lbx{k9}{866}{5996}{1、“想想做做”第2题。}
\lbx{k91}{724}{5953}{谈话：我们已经知道，在不同的位置看同一个\\物体，看到的样子不同。生活中也常常需要从\\不同的位置观察同一个物体。瞧，校园里有一\\辆汽车，(出示“想想做做”第2题)三个小朋友\\在不同的位置观察这辆汽车，你知道右边的图\\分别是谁看到的吗?}
\lbx{k92}{724}{6036}{学生独立完成后，组织反馈。}
\lbx{k10}{866}{6199}{2、“想想做做”第3题。}
\lbx{k101}{724}{6101}{谈话：请小组长拿出这样的茶壶，(出示茶壶)\\像这样放在桌上，(放在一个小组的桌上)你能\\指出自己看到的是哪一幅图吗?}
\lbx{k102}{724}{6163}{学生到黑板上分别指出自己看到的视图。}
\lbx{k103}{724}{6226}{提问：你能说出你们组其他三个小朋友看到的\\是哪一幅图吗?(着重引导学生根据壶嘴和壶把\\的朝向判断茶壶的左视图和右视图)}
\lbx{k104}{724}{6297}{四、课堂总结}
\lbx{k1041}{626}{6297}{提问：今天这节课我们学习了什么?你有什么\\收获?}

\chL{t5}{k1,k2,k3,k4,k5,k6,k7,k8,k9,k10}
\chL{k5}{k51,k52,k53}
\chL{k52}{k521,k522,k523,k524,k525,k526,k527,k528}
\chL{k6}{k61,k62,k63,k64,k65,k66,k67,k68,k69,k610}
\chL{k7}{k71,k72,k73,k74,k75}
\chL{k8}{k81,k82,k83,k84}
\chL{k9}{k91,k92}
\chL{k10}{k101,k102,k103,k104}
\chL{k104}{k1041}
\end{tikzpicture}
\end{document}
